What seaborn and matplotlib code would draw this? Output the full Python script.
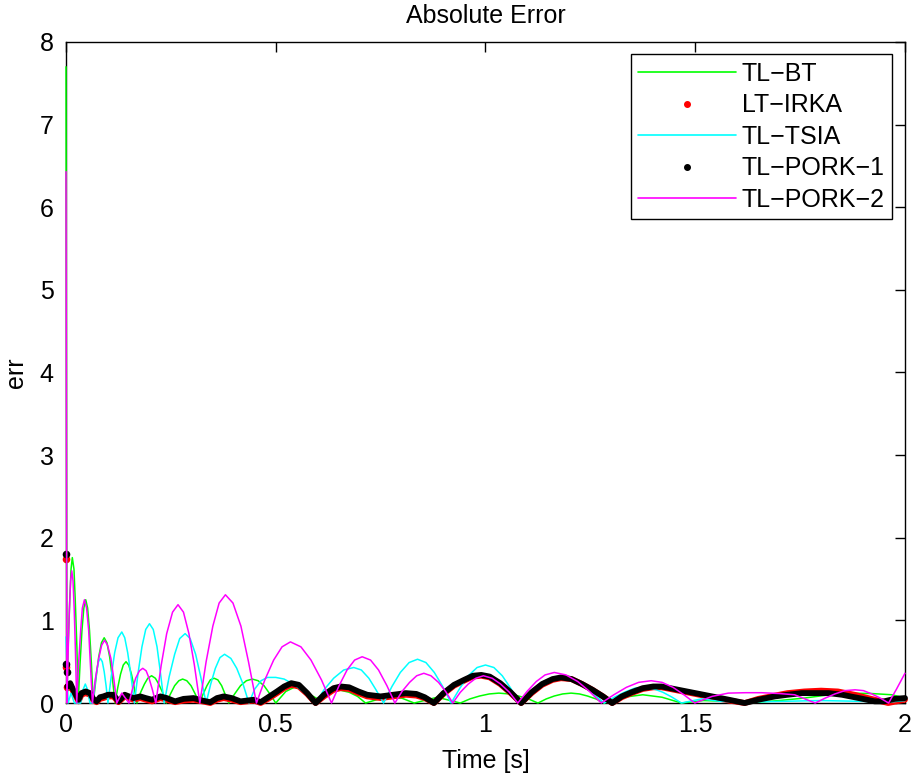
import matplotlib
matplotlib.use("Agg")
import matplotlib.pyplot as plt
from matplotlib.lines import Line2D
import seaborn as sns

# values (time in s, absolute error)
bt_t = [0.0, 0.002, 0.005, 0.009, 0.012, 0.015, 0.019, 0.022, 0.026, 0.029,
        0.0335, 0.038, 0.0425, 0.047, 0.0515, 0.056, 0.0605, 0.065,
        0.0715, 0.078, 0.0845, 0.091, 0.0975, 0.104, 0.1105, 0.117,
        0.1235, 0.130, 0.1365, 0.143, 0.1495, 0.156, 0.1625, 0.169,
        0.178, 0.187, 0.195, 0.204, 0.213, 0.221, 0.230, 0.239,
        0.249, 0.259, 0.269, 0.278, 0.288, 0.298, 0.308, 0.318,
        0.327, 0.336, 0.344, 0.353, 0.362, 0.371, 0.379, 0.388,
        0.402, 0.416, 0.430, 0.444, 0.458, 0.472, 0.486, 0.500,
        0.524, 0.548, 0.572, 0.600, 0.625, 0.650, 0.675, 0.695, 0.714,
        0.76, 0.80, 0.83, 0.885, 0.94,
        0.963, 0.986, 1.009, 1.032, 1.056, 1.079, 1.102, 1.125,
        1.145, 1.164, 1.184, 1.204, 1.224, 1.243, 1.263, 1.283,
        1.329, 1.375, 1.421, 1.467, 1.52, 1.58, 1.62, 1.70, 1.76, 1.82,
        1.866, 1.92, 1.969, 2.0]
bt_err = [7.7, 0.0, 0.67, 1.25, 1.62, 1.76, 1.62, 1.25, 0.67, 0.0,
          0.48, 0.88, 1.15, 1.25, 1.15, 0.88, 0.48, 0.0,
          0.30, 0.56, 0.73, 0.79, 0.73, 0.56, 0.30, 0.0,
          0.19, 0.35, 0.46, 0.50, 0.46, 0.35, 0.19, 0.0,
          0.13, 0.23, 0.30, 0.33, 0.30, 0.23, 0.13, 0.0,
          0.11, 0.21, 0.27, 0.29, 0.27, 0.21, 0.11, 0.0,
          0.11, 0.21, 0.28, 0.30, 0.28, 0.21, 0.11, 0.0,
          0.11, 0.21, 0.27, 0.29, 0.27, 0.21, 0.11, 0.0,
          0.14, 0.20, 0.13, 0.05, 0.12, 0.16, 0.13, 0.08, 0.0,
          0.07, 0.06, 0.0, 0.07, 0.0,
          0.05, 0.085, 0.11, 0.12, 0.11, 0.085, 0.05, 0.0,
          0.05, 0.085, 0.11, 0.12, 0.11, 0.085, 0.05, 0.0,
          0.07, 0.10, 0.07, 0.0, 0.03, 0.02, 0.0, 0.03, 0.06, 0.10,
          0.12, 0.115, 0.10, 0.06]

irka_dot_t = [0.0, 0.001, 0.002]
irka_dot_err = [1.74, 0.44, 0.20]
irka_t = [0.003, 0.010, 0.018, 0.030, 0.037, 0.047, 0.057, 0.065, 0.073, 0.081,
          0.089, 0.100, 0.113, 0.125, 0.140, 0.150, 0.161, 0.177, 0.190, 0.205,
          0.225, 0.240, 0.260, 0.280, 0.304, 0.325, 0.344, 0.360, 0.376, 0.395,
          0.416, 0.432, 0.448, 0.464, 0.485, 0.503, 0.520, 0.537, 0.555, 0.575,
          0.595, 0.615, 0.638, 0.655, 0.675, 0.697, 0.718, 0.750, 0.780, 0.810,
          0.835, 0.855, 0.877, 0.900, 0.925, 0.949, 0.970, 0.990, 1.010, 1.035,
          1.060, 1.085, 1.110, 1.135, 1.160, 1.180, 1.205, 1.230, 1.255, 1.280,
          1.302, 1.325, 1.348, 1.375, 1.400, 1.420, 1.460, 1.500, 1.540, 1.580,
          1.618, 1.650, 1.690, 1.720, 1.760, 1.800, 1.840, 1.880, 1.920, 1.960,
          1.980, 2.0]
irka_err = [0.20, 0.22, 0.13, 0.02, 0.10, 0.12, 0.10, 0.03, 0.01, 0.05,
            0.06, 0.08, 0.08, 0.01, 0.08, 0.06, 0.04, 0.06, 0.04, 0.02,
            0.06, 0.04, 0.01, 0.03, 0.04, 0.02, 0.0, 0.04, 0.06, 0.04,
            0.01, 0.02, 0.03, 0.0, 0.06, 0.12, 0.18, 0.22, 0.20, 0.11,
            0.0, 0.08, 0.16, 0.18, 0.17, 0.12, 0.08, 0.06, 0.08, 0.10,
            0.09, 0.06, 0.0, 0.11, 0.21, 0.27, 0.32, 0.33, 0.31, 0.23,
            0.12, 0.0, 0.12, 0.22, 0.28, 0.30, 0.29, 0.23, 0.16, 0.08,
            0.0, 0.07, 0.12, 0.17, 0.19, 0.19, 0.15, 0.11, 0.07, 0.03,
            0.0, 0.05, 0.09, 0.12, 0.14, 0.15, 0.14, 0.10, 0.05, 0.0,
            0.02, 0.04]

tsia_t = [0.0, 0.005, 0.012, 0.020, 0.035, 0.0405, 0.046, 0.0515, 0.057,
          0.064, 0.0685, 0.073, 0.0775, 0.082, 0.0865, 0.091, 0.0955, 0.100,
          0.108, 0.116, 0.124, 0.133, 0.140, 0.147, 0.155, 0.163,
          0.172, 0.181, 0.190, 0.199, 0.208, 0.217, 0.225, 0.234,
          0.246, 0.259, 0.271, 0.284, 0.296, 0.309, 0.321, 0.334,
          0.345, 0.356, 0.367, 0.378, 0.393, 0.407, 0.422, 0.436,
          0.450, 0.465, 0.480, 0.500, 0.520, 0.545, 0.570, 0.595,
          0.615, 0.638, 0.662, 0.686, 0.704, 0.722, 0.739, 0.757,
          0.777, 0.797, 0.818, 0.838, 0.858, 0.878, 0.898, 0.918,
          0.939, 0.959, 0.980, 1.000, 1.020, 1.040, 1.060, 1.080,
          1.105, 1.130, 1.155, 1.180, 1.206, 1.232, 1.257, 1.283,
          1.307, 1.331, 1.356, 1.380, 1.402, 1.423, 1.445, 1.467,
          1.515, 1.56, 1.62, 1.70, 1.80, 1.90, 1.96, 2.0]
tsia_err = [0.8, 0.0, 0.12, 0.0, 0.0, 0.16, 0.23, 0.16, 0.0,
            0.0, 0.21, 0.38, 0.50, 0.54, 0.50, 0.38, 0.21, 0.0,
            0.33, 0.61, 0.79, 0.86, 0.79, 0.61, 0.33, 0.0,
            0.37, 0.68, 0.89, 0.96, 0.89, 0.68, 0.37, 0.0,
            0.32, 0.59, 0.78, 0.84, 0.78, 0.59, 0.32, 0.0,
            0.23, 0.42, 0.55, 0.59, 0.54, 0.42, 0.23, 0.0,
            0.17, 0.27, 0.31, 0.31, 0.29, 0.22, 0.12, 0.0,
            0.16, 0.30, 0.40, 0.43, 0.40, 0.30, 0.16, 0.0,
            0.20, 0.37, 0.49, 0.53, 0.49, 0.37, 0.20, 0.0,
            0.18, 0.33, 0.43, 0.46, 0.43, 0.33, 0.18, 0.0,
            0.11, 0.21, 0.28, 0.30, 0.28, 0.21, 0.11, 0.0,
            0.07, 0.13, 0.18, 0.19, 0.17, 0.13, 0.07, 0.0,
            0.05, 0.02, 0.01, 0.02, 0.03, 0.02, 0.01, 0.03]

pork1_dot_t = [0.0, 0.001, 0.002]
pork1_dot_err = [1.80, 0.47, 0.38]
pork1_t = [0.003, 0.010, 0.018, 0.030, 0.037, 0.047, 0.057, 0.065, 0.073, 0.081,
           0.089, 0.100, 0.113, 0.125, 0.140, 0.150, 0.161, 0.177, 0.190, 0.205,
           0.225, 0.240, 0.260, 0.280, 0.304, 0.325, 0.344, 0.360, 0.376, 0.395,
           0.416, 0.432, 0.448, 0.464, 0.485, 0.503, 0.520, 0.537, 0.555, 0.575,
           0.595, 0.615, 0.638, 0.655, 0.675, 0.697, 0.718, 0.750, 0.780, 0.810,
           0.835, 0.855, 0.877, 0.900, 0.925, 0.949, 0.970, 0.990, 1.010, 1.035,
           1.060, 1.085, 1.110, 1.135, 1.160, 1.180, 1.205, 1.230, 1.255, 1.280,
           1.302, 1.325, 1.348, 1.375, 1.400, 1.420, 1.460, 1.500, 1.540, 1.580,
           1.618, 1.650, 1.690, 1.720, 1.754, 1.790, 1.818, 1.850, 1.890, 1.928,
           1.950, 1.975, 2.0]
pork1_err = [0.20, 0.24, 0.15, 0.04, 0.12, 0.14, 0.12, 0.05, 0.02, 0.07,
             0.08, 0.10, 0.10, 0.02, 0.10, 0.08, 0.06, 0.08, 0.06, 0.04,
             0.08, 0.06, 0.02, 0.05, 0.06, 0.03, 0.01, 0.06, 0.08, 0.06,
             0.02, 0.03, 0.04, 0.01, 0.08, 0.14, 0.20, 0.24, 0.22, 0.12,
             0.0, 0.10, 0.18, 0.20, 0.19, 0.14, 0.10, 0.08, 0.10, 0.12,
             0.11, 0.07, 0.0, 0.12, 0.22, 0.28, 0.33, 0.34, 0.32, 0.24,
             0.13, 0.0, 0.13, 0.23, 0.29, 0.31, 0.29, 0.23, 0.16, 0.08,
             0.0, 0.08, 0.13, 0.18, 0.20, 0.20, 0.16, 0.12, 0.08, 0.04,
             0.0, 0.04, 0.08, 0.10, 0.12, 0.12, 0.12, 0.10, 0.06, 0.02,
             0.02, 0.05, 0.06]

pork2_t = [0.0, 0.002, 0.005, 0.008, 0.011, 0.0138, 0.0167, 0.0196, 0.0226, 0.0255,
           0.030, 0.035, 0.039, 0.044, 0.049, 0.054, 0.058, 0.063,
           0.070, 0.078, 0.085, 0.092, 0.099, 0.107, 0.114, 0.121,
           0.133, 0.150,
           0.158, 0.166, 0.175, 0.183, 0.191, 0.198, 0.206, 0.214,
           0.227, 0.240, 0.254, 0.267, 0.280, 0.293, 0.306, 0.319,
           0.334, 0.350, 0.365, 0.380, 0.398, 0.417, 0.435, 0.454,
           0.474, 0.495, 0.515, 0.535, 0.560, 0.584, 0.609, 0.633,
           0.651, 0.670, 0.688, 0.706, 0.726, 0.745, 0.765, 0.784,
           0.801, 0.819, 0.836, 0.853, 0.870, 0.888, 0.905, 0.922,
           0.940, 0.959, 0.977, 0.995, 1.016, 1.036, 1.057, 1.077,
           1.099, 1.121, 1.142, 1.164, 1.192, 1.220, 1.248, 1.276,
           1.306, 1.336, 1.365, 1.395, 1.421, 1.447, 1.473, 1.499,
           1.54, 1.579, 1.62, 1.658, 1.70, 1.737, 1.786,
           1.810, 1.833, 1.857, 1.881, 1.901, 1.921, 1.941, 1.961,
           1.98, 2.0]
pork2_err = [6.43, 0.0, 0.61, 1.13, 1.48, 1.60, 1.48, 1.13, 0.61, 0.0,
             0.48, 0.88, 1.15, 1.25, 1.15, 0.88, 0.48, 0.0,
             0.29, 0.54, 0.70, 0.76, 0.70, 0.54, 0.29, 0.0,
             0.12, 0.0,
             0.16, 0.30, 0.39, 0.42, 0.39, 0.30, 0.16, 0.0,
             0.46, 0.84, 1.10, 1.19, 1.10, 0.84, 0.46, 0.0,
             0.50, 0.93, 1.21, 1.31, 1.21, 0.93, 0.50, 0.0,
             0.28, 0.52, 0.68, 0.74, 0.68, 0.52, 0.28, 0.0,
             0.21, 0.40, 0.52, 0.56, 0.52, 0.40, 0.21, 0.0,
             0.14, 0.25, 0.33, 0.36, 0.33, 0.25, 0.14, 0.0,
             0.13, 0.23, 0.30, 0.33, 0.30, 0.23, 0.13, 0.0,
             0.14, 0.26, 0.34, 0.37, 0.34, 0.26, 0.14, 0.0,
             0.10, 0.19, 0.25, 0.27, 0.25, 0.19, 0.10, 0.0,
             0.08, 0.12, 0.125, 0.125, 0.115, 0.10, 0.0,
             0.06, 0.11, 0.15, 0.16, 0.15, 0.11, 0.06, 0.0,
             0.17, 0.36]

labels = ["TL\u2212BT", "LT\u2212IRKA", "TL\u2212TSIA", "TL\u2212PORK\u22121", "TL\u2212PORK\u22122"]

sns.set_style("white")
plt.rcParams["font.family"] = ["Liberation Sans", "DejaVu Sans"]
plt.rcParams["font.size"] = 18
for key in ["text.color", "axes.labelcolor", "xtick.color", "ytick.color"]:
    plt.rcParams[key] = "black"

fig = plt.figure(figsize=(9.13, 7.77), dpi=100)
ax = fig.add_axes([0.0723, 0.0952, 0.9189, 0.8508])

sns.lineplot(x=bt_t, y=bt_err, color="#00ff00", lw=1.1, sort=False, estimator=None, ax=ax)
sns.lineplot(x=irka_t, y=irka_err, color="#ff0000", lw=4.2, sort=False, estimator=None, ax=ax)
sns.scatterplot(x=irka_dot_t, y=irka_dot_err, color="#ff0000", s=30, linewidth=0, ax=ax)
sns.lineplot(x=tsia_t, y=tsia_err, color="#00ffff", lw=1.1, sort=False, estimator=None, ax=ax)
sns.lineplot(x=pork1_t, y=pork1_err, color="black", lw=4.2, sort=False, estimator=None, ax=ax)
sns.scatterplot(x=pork1_dot_t, y=pork1_dot_err, color="black", s=30, linewidth=0, ax=ax)
sns.lineplot(x=pork2_t, y=pork2_err, color="#ff00ff", lw=1.1, sort=False, estimator=None, ax=ax)

# let the curves sit over the frame, as in the original
for art in ax.lines + ax.collections:
    art.set_clip_on(False)

ax.set_xlim(0, 2)
ax.set_ylim(0, 8)
ax.set_xticks([0, 0.5, 1, 1.5, 2])
ax.set_xticklabels(["0", "0.5", "1", "1.5", "2"])
ax.set_yticks(range(0, 9))
ax.tick_params(direction="in", length=7, width=1, top=True, right=True, labelsize=18)
ax.tick_params(axis="y", pad=9)
ax.tick_params(axis="x", pad=7)
for sp in ax.spines.values():
    sp.set_color("black")
    sp.set_linewidth(1.0)
    sp.set_zorder(1)

ax.set_title("Absolute Error", fontsize=18, pad=14)
ax.set_xlabel("Time [s]", fontsize=18, labelpad=9)
ax.set_ylabel("err", fontsize=18, labelpad=8)

handles = [
    Line2D([], [], color="#00ff00", lw=1.2),
    Line2D([], [], color="#ff0000", marker=".", ls="none", markersize=8),
    Line2D([], [], color="#00ffff", lw=1.2),
    Line2D([], [], color="black", marker=".", ls="none", markersize=8),
    Line2D([], [], color="#ff00ff", lw=1.2),
]
leg = ax.legend(handles, labels, loc="upper right", fontsize=18, handlelength=3.9,
                labelspacing=0.3, borderaxespad=0.5, fancybox=False,
                edgecolor="black", framealpha=1, handletextpad=0.25, borderpad=0.3)
leg.get_frame().set_linewidth(1.0)

fig.savefig("out.png", dpi=100)
